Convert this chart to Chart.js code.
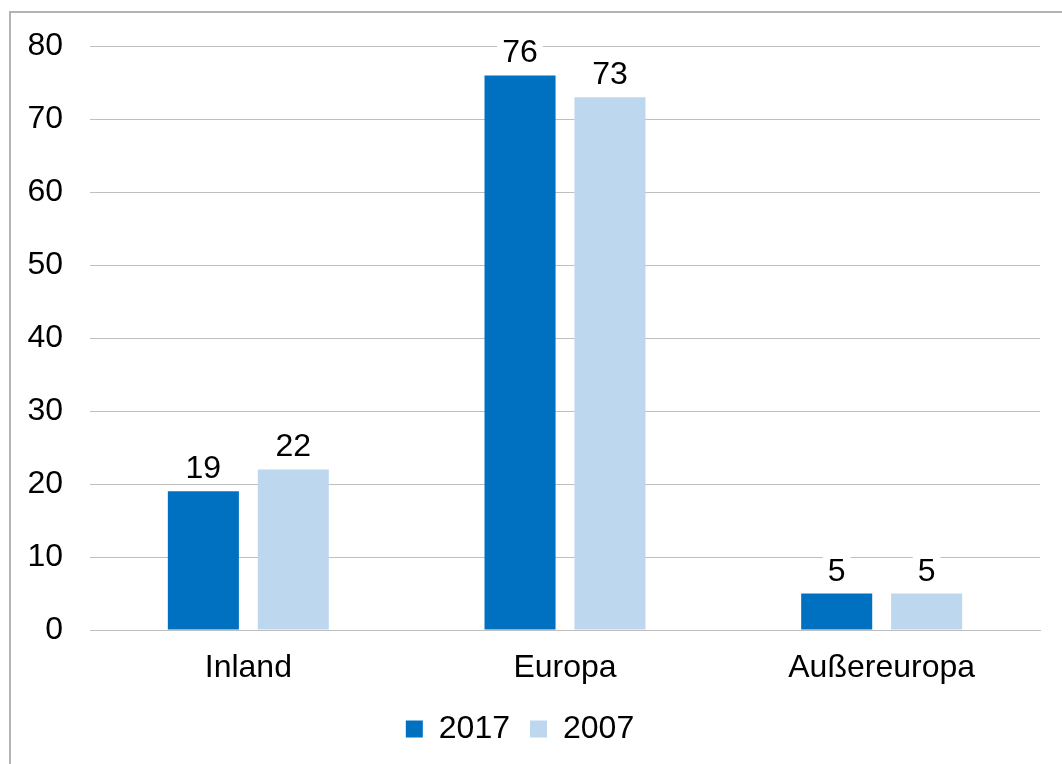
<!DOCTYPE html>
<html>
<head>
<meta charset="utf-8">
<script src="https://cdn.jsdelivr.net/npm/chart.js@4"></script>
<style>
  body { margin: 0; background: #fff; }
  #wrap { position: relative; width: 1062px; height: 764px; overflow: hidden; }
  #frame { position: absolute; left: 9px; top: 11px; width: 1100px; height: 800px;
           border: 2px solid #b4b4b4; box-sizing: border-box; }
  canvas { position: absolute; left: 0; top: 0; }
</style>
</head>
<body>
<div id="wrap">
  <div id="frame"></div>
  <canvas id="c1" width="1062" height="764"></canvas>
</div>
<script>
// Regionen und Anteile
var regions = ['Inland', 'Europa', 'Außereuropa'];
var values2017 = [19, 76, 5];
var values2007 = [22, 73, 5];
var yTicks = [0, 10, 20, 30, 40, 50, 60, 70, 80];

var fontName = '"Liberation Sans", Arial, sans-serif';

// Werte über den Balken, mit weißem Hintergrund
var barLabels = {
  id: 'barLabels',
  afterDatasetsDraw: function(chart) {
    var ctx = chart.ctx;
    ctx.save();
    ctx.font = '32px ' + fontName;
    ctx.textAlign = 'center';
    ctx.textBaseline = 'alphabetic';
    chart.data.datasets.forEach(function(ds, i) {
      chart.getDatasetMeta(i).data.forEach(function(bar, j) {
        var txt = String(ds.data[j]);
        var w = ctx.measureText(txt).width;
        var yb = bar.y - 13;
        ctx.fillStyle = '#fff';
        ctx.fillRect(bar.x - w / 2 - 5, yb - 28, w + 10, 32);
        ctx.fillStyle = '#000';
        ctx.fillText(txt, bar.x, yb);
      });
    });
    ctx.restore();
  }
};

var ctx = document.getElementById('c1').getContext('2d');
var chart1 = new Chart(ctx, {
    type: 'bar',
    data: {
        labels: regions,
        datasets: [{
            label: '2017',
            backgroundColor: '#0070C0',
            data: values2017
        }, {
            label: '2007',
            backgroundColor: '#BDD7EE',
            data: values2007
        }]
    },
    options: {
        responsive: false,
        animation: false,
        categoryPercentage: 0.568,
        barPercentage: 0.79,
        layout: { autoPadding: false, padding: { top: 43, right: 22, left: 0, bottom: 9 } },
        plugins: {
            tooltip: { enabled: false },
            legend: {
                position: 'bottom',
                labels: {
                    font: { family: fontName, size: 32 },
                    color: '#000',
                    boxWidth: 17,
                    boxHeight: 17,
                    padding: 20
                }
            }
        },
        scales: {
            x: {
                afterFit: function(scale) { scale.height = 63; },
                grid: { display: false, drawTicks: false },
                border: { color: '#bfbfbf', width: 1 },
                ticks: { font: { family: fontName, size: 32 }, color: '#000', padding: 19 }
            },
            y: {
                min: 0,
                max: 80,
                afterBuildTicks: function(scale) {
                    scale.ticks = yTicks.map(function(v) { return { value: v }; });
                },
                afterFit: function(scale) { scale.width = 90; },
                grid: { color: '#bfbfbf', drawTicks: false },
                border: { display: false },
                ticks: { font: { family: fontName, size: 32 }, color: '#000', padding: 27 }
            }
        }
    },
    plugins: [barLabels]
});
</script>
</body>
</html>
